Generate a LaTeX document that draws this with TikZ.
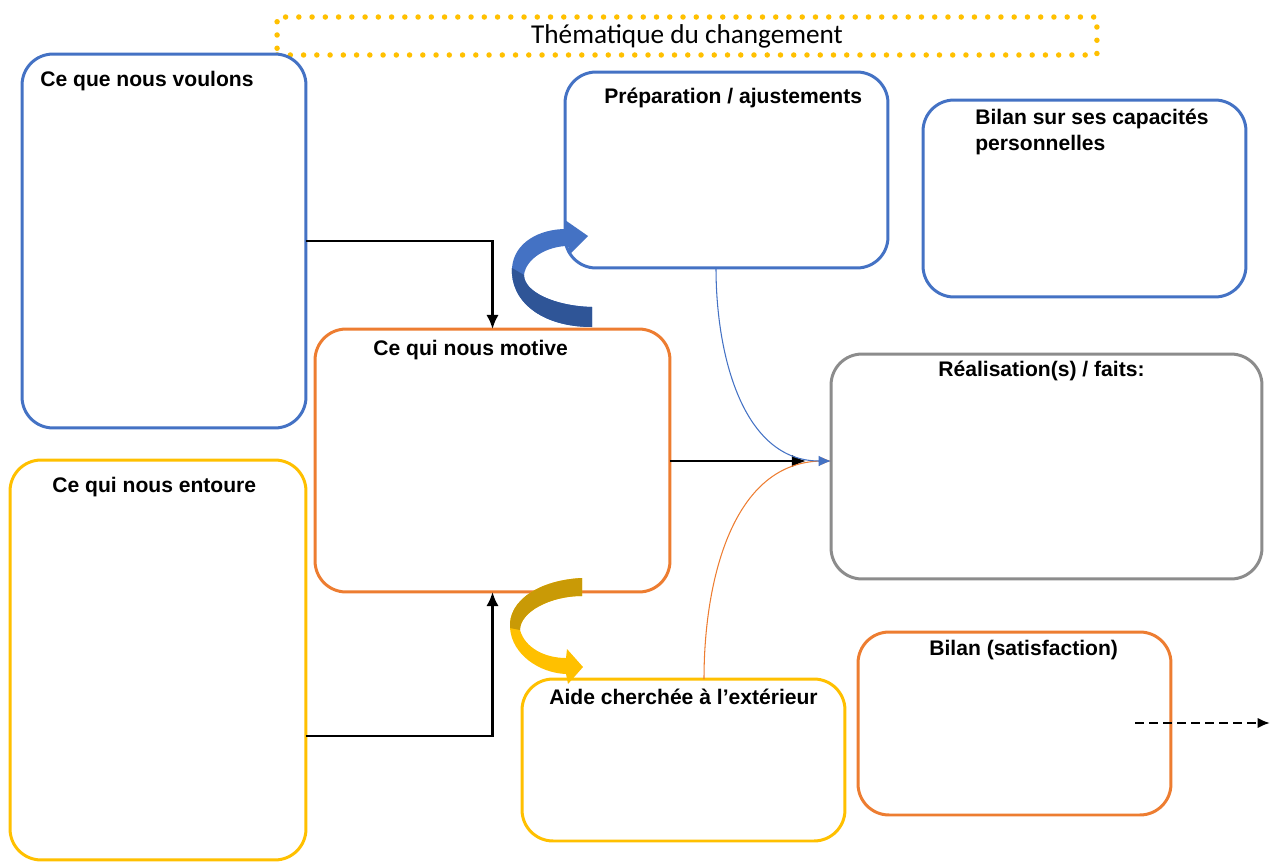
\documentclass[tikz,border=0pt]{standalone}
\usepackage{fontspec}
\setmainfont{Liberation Sans}
\newfontfamily\titlefont{Carlito}
\usetikzlibrary{arrows.meta}
\definecolor{cblue}{HTML}{4472C4}
\definecolor{cdblue}{HTML}{2F5597}
\definecolor{corange}{HTML}{ED7D31}
\definecolor{cyellow}{HTML}{FFC000}
\definecolor{cgold}{HTML}{C99A06}
\definecolor{cgray}{HTML}{8C8C8C}
\tikzset{
  box/.style={draw, line width=1.7pt, rounded corners=0.62cm, inner sep=0pt, outer sep=0pt, fill=white},
  lbl/.style={font=\fontsize{12}{14.5}\selectfont\bfseries, inner sep=0pt, anchor=west, align=left},
  conn/.style={line width=1.4pt, -{Latex[length=8pt,width=7pt]}},
  thin/.style={line width=0.6pt}
}
\begin{document}
\begin{tikzpicture}[x=0.02cm, y=-0.02cm]
\useasboundingbox (0,0) rectangle (1274,862);
% title
\node[draw=cyellow, line width=0.11cm, dash pattern=on 0pt off 0.265cm, line cap=round,
      minimum width=16.4cm, minimum height=0.76cm, inner sep=0pt] (title) at (687,36)
      {\titlefont\fontsize{15.5}{18}\selectfont Thématique du changement};
% boxes
\node[box, draw=cblue, minimum width=5.68cm, minimum height=7.48cm] (b1) at (164,241) {};
\node[box, draw=cyellow, minimum width=5.92cm, minimum height=8.0cm] (b2) at (158,660) {};
\node[box, draw=corange, minimum width=7.1cm, minimum height=5.26cm] (b3) at (492.5,460.5) {};
\node[box, draw=cblue, minimum width=6.46cm, minimum height=3.92cm] (b4) at (726.5,170) {};
\node[box, draw=cblue, minimum width=6.46cm, minimum height=3.94cm] (b5) at (1084.5,198.5) {};
\node[box, draw=cgray, minimum width=8.62cm, minimum height=4.5cm] (b6) at (1046.5,466.5) {};
\node[box, draw=corange, minimum width=6.26cm, minimum height=3.66cm] (b7) at (1014.5,723.5) {};
\node[box, draw=cyellow, minimum width=6.46cm, minimum height=3.24cm] (b8) at (683.5,760) {};
% labels
\node[lbl] (t1) at (40,81) {Ce que nous voulons};
\node[lbl] (t2) at (52,487) {Ce qui nous entoure};
\node[lbl] (t3) at (373,350) {Ce qui nous motive};
\node[lbl] (t4) at (604,98) {Préparation / ajustements};
\node[lbl, anchor=north west] (t5) at (975,109) {Bilan sur ses capacités\\personnelles};
\node[lbl] (t6) at (938,371) {Réalisation(s) / faits:};
\node[lbl] (t7) at (929,650) {Bilan (satisfaction)};
\node[lbl] (t8) at (549,697) {Aide cherchée à l’extérieur};
% connectors
\coordinate (y736) at (0,736);
\coordinate (mend) at (806,461);
\coordinate (dstart) at (1135,723);
\coordinate (dend) at (1270,723);
\coordinate (b4out) at (716,268);
\coordinate (b8out) at (704,679);
\coordinate (b6in) at (831,461);
\draw[conn] (b1.east) -| (b3.north);
\draw[conn] (b2.east |- y736) -| (b3.south);
\draw[conn] (b3.east |- mend) -- (mend);
\draw[thin, draw=corange, -{Latex[length=5pt,width=4pt]}] (b8out) to[out=90, in=180] (b6in);
\draw[thin, draw=cblue, -{Latex[length=7pt,width=6pt]}] (b4out) to[out=-90, in=180] (b6in);
\draw[line width=1.4pt, dash pattern=on 5pt off 3pt, -{Latex[length=7pt,width=6pt]}] (dstart) -- (dend);
% blue ribbon arrow
\fill[cblue] (592,327) .. controls (540,327) and (510,300) .. (512,268)
  .. controls (514,242) and (540,229) .. (566,229) -- (565,220) -- (588,236) -- (570,254) -- (568,246)
  .. controls (548,246) and (526,258) .. (524,275) .. controls (524,292) and (555,306) .. (592,307) -- cycle;
\fill[cdblue] (592,327) .. controls (540,327) and (510,300) .. (512,268) -- (524,275)
  .. controls (524,292) and (555,306) .. (592,307) -- cycle;
% yellow ribbon arrow
\fill[cyellow] (582,578) .. controls (540,580) and (508,600) .. (510,628)
  .. controls (512,655) and (540,673) .. (566,674) -- (568,684) -- (583,667) -- (567,649) -- (566,658)
  .. controls (545,658) and (525,648) .. (520,630) .. controls (520,612) and (550,596) .. (582,596) -- cycle;
\fill[cgold] (582,578) .. controls (540,580) and (508,600) .. (510,628) -- (520,630)
  .. controls (520,612) and (550,596) .. (582,596) -- cycle;
\end{tikzpicture}
\end{document}
